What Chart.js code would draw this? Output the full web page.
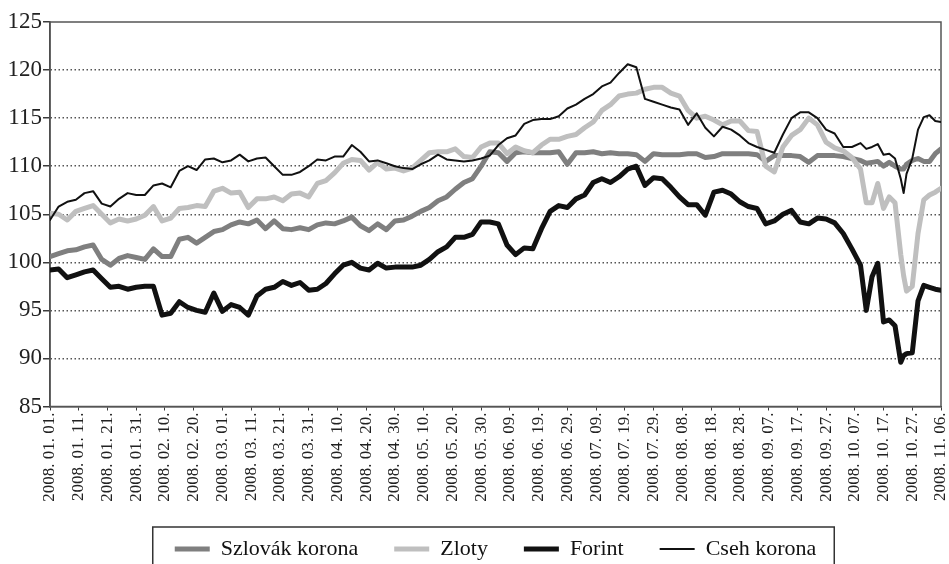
<!DOCTYPE html>
<html lang="hu">
<head>
<meta charset="UTF-8">
<title>Árfolyamindexek 2008</title>
<script src="https://cdn.jsdelivr.net/npm/chart.js"></script>
<style>
  html, body { margin: 0; padding: 0; background: #fff; }
  .wrap { width: 949px; height: 564px; position: relative; }
</style>
</head>
<body>
<div class="wrap"><canvas id="fxChart" width="949" height="564"></canvas></div>
<script>
// day index counted from 2008.01.01
const days = [0,3,6,9,12,15,18,21,24,27,30,33,36,39,42,45,48,51,54,57,60,63,66,69,72,75,78,81,84,87,
  90,93,96,99,102,105,108,111,114,117,120,123,126,129,132,135,138,141,144,147,150,153,156,159,162,165,168,171,174,177,
  180,183,186,189,192,195,198,201,204,207,210,213,216,219,222,225,228,231,234,237,240,243,246,249,252,255,258,261,264,267,
  270,273,276,279,282,284,286,288,290,292,294,296,297,298,300,302,304,306,308,310];

const szlovak = [100.6,100.9,101.2,101.3,101.6,101.8,100.3,99.7,100.4,100.7,
  100.5,100.3,101.4,100.6,100.6,102.4,102.6,102.0,102.6,103.2,
  103.4,103.9,104.2,104.0,104.4,103.5,104.3,103.5,103.4,103.6,
  103.4,103.9,104.1,104.0,104.3,104.7,103.8,103.3,104.0,103.4,
  104.3,104.4,104.8,105.3,105.7,106.4,106.8,107.6,108.3,108.7,
  110.0,111.5,111.4,110.5,111.4,111.5,111.4,111.4,111.4,111.5,
  110.2,111.4,111.4,111.5,111.3,111.4,111.3,111.3,111.2,110.5,
  111.3,111.2,111.2,111.2,111.3,111.3,110.9,111.0,111.3,111.3,
  111.3,111.3,111.2,110.5,111.1,111.1,111.1,111.0,110.4,111.1,
  111.1,111.1,111.0,110.8,
  110.6,110.3,110.4,110.5,110.0,110.4,110.0,109.7,109.7,110.2,110.6,110.8,110.5,110.5,111.3,111.8];

const zloty = [105.1,105.0,104.4,105.3,105.6,105.9,105.0,104.1,104.5,104.3,
  104.5,104.9,105.8,104.3,104.6,105.6,105.7,105.9,105.8,107.4,
  107.7,107.2,107.3,105.7,106.6,106.6,106.8,106.4,107.1,107.2,
  106.8,108.2,108.5,109.3,110.3,110.7,110.6,109.6,110.4,109.7,
  109.8,109.5,109.8,110.6,111.4,111.5,111.5,111.8,111.0,110.9,
  112.0,112.4,112.4,111.3,112.0,111.6,111.4,112.2,112.8,112.8,
  113.1,113.3,114.0,114.6,115.8,116.4,117.3,117.5,117.6,118.0,
  118.2,118.2,117.6,117.3,115.8,115.0,115.2,114.8,114.3,114.7,
  114.7,113.7,113.6,110.0,109.4,112.0,113.2,113.8,115.0,114.3,
  112.5,111.9,111.6,110.9,
  109.7,106.2,106.2,108.2,105.6,106.8,106.2,100.8,98.6,97.0,97.5,103.0,106.5,107.0,107.3,107.7];

const forint = [99.2,99.3,98.4,98.7,99.0,99.2,98.3,97.4,97.5,97.2,
  97.4,97.5,97.5,94.5,94.7,95.9,95.3,95.0,94.8,96.8,
  94.9,95.6,95.3,94.5,96.5,97.2,97.4,98.0,97.6,97.9,
  97.1,97.2,97.8,98.8,99.7,100.0,99.4,99.2,99.9,99.4,
  99.5,99.5,99.5,99.7,100.3,101.1,101.6,102.6,102.6,102.9,
  104.2,104.2,104.0,101.8,100.8,101.5,101.4,103.5,105.3,105.9,
  105.7,106.6,107.0,108.3,108.7,108.3,108.9,109.7,110.0,108.0,
  108.8,108.7,107.8,106.8,106.0,106.0,104.9,107.3,107.5,107.1,
  106.3,105.8,105.6,104.0,104.3,105.0,105.4,104.2,104.0,104.6,
  104.5,104.1,103.0,101.4,
  99.7,95.0,98.5,99.9,93.8,94.0,93.4,89.6,90.3,90.5,90.6,96.0,97.6,97.4,97.2,97.1];

const cseh = [104.4,105.8,106.3,106.5,107.2,107.4,106.1,105.8,106.6,107.2,
  107.0,107.0,108.0,108.2,107.8,109.5,110.0,109.6,110.7,110.8,
  110.4,110.6,111.2,110.5,110.8,110.9,110.0,109.1,109.1,109.4,
  110.0,110.7,110.6,111.0,111.0,112.2,111.5,110.5,110.6,110.3,
  110.0,109.8,109.7,110.2,110.6,111.2,110.7,110.6,110.5,110.6,
  110.8,111.1,112.2,112.9,113.2,114.4,114.8,114.9,114.9,115.2,
  116.0,116.4,117.0,117.5,118.3,118.7,119.7,120.6,120.3,117.0,
  116.7,116.4,116.1,115.9,114.3,115.5,114.0,113.1,114.1,113.8,
  113.2,112.4,112.0,111.7,111.4,113.3,115.0,115.6,115.6,115.0,
  113.8,113.4,112.0,112.0,
  112.4,111.8,112.0,112.3,111.2,111.3,110.8,108.7,107.2,109.2,110.8,113.8,115.1,115.3,114.7,114.6];

const tickLabels = ['2008. 01. 01.','2008. 01. 11.','2008. 01. 21.','2008. 01. 31.','2008. 02. 10.','2008. 02. 20.',
  '2008. 03. 01.','2008. 03. 11.','2008. 03. 21.','2008. 03. 31.','2008. 04. 10.','2008. 04. 20.','2008. 04. 30.',
  '2008. 05. 10.','2008. 05. 20.','2008. 05. 30.','2008. 06. 09.','2008. 06. 19.','2008. 06. 29.','2008. 07. 09.',
  '2008. 07. 19.','2008. 07. 29.','2008. 08. 08.','2008. 08. 18.','2008. 08. 28.','2008. 09. 07.','2008. 09. 17.',
  '2008. 09. 27.','2008. 10. 07.','2008. 10. 17.','2008. 10. 27.','2008. 11. 06.'];

const seriesNames = ['Szlovák korona', 'Zloty', 'Forint', 'Cseh korona'];

const FONT = '"Liberation Serif", "Times New Roman", Times, "DejaVu Serif", serif';
const AXIS = '#3a3a3a';

function pts(vals) {
  return days.map((d, i) => ({ x: d, y: vals[i] }));
}

// frame around plot area and legend
const frames = {
  id: 'frames',
  beforeDatasetsDraw(chart) {
    const a = chart.chartArea, ctx = chart.ctx;
    ctx.save();
    ctx.strokeStyle = '#555';
    ctx.lineWidth = 1.5;
    ctx.strokeRect(a.left, a.top, a.right - a.left, a.bottom - a.top);
    ctx.restore();
  },
  afterDraw(chart) {
    const boxes = chart.legend.legendHitBoxes;
    if (!boxes || !boxes.length) return;
    const l = Math.min(...boxes.map(b => b.left)) - 22;
    const r = Math.max(...boxes.map(b => b.left + b.width)) + 18;
    const cy = boxes[0].top + boxes[0].height / 2;
    const ctx = chart.ctx;
    ctx.save();
    ctx.strokeStyle = '#333';
    ctx.lineWidth = 1.5;
    ctx.strokeRect(l, cy - 22, r - l, 60);
    ctx.restore();
  }
};

new Chart(document.getElementById('fxChart'), {
  type: 'line',
  data: {
    datasets: [
      { label: seriesNames[0], data: pts(szlovak), borderColor: '#7f7f7f', borderWidth: 5, order: 4 },
      { label: seriesNames[1], data: pts(zloty), borderColor: '#bfbfbf', borderWidth: 5, order: 3 },
      { label: seriesNames[2], data: pts(forint), borderColor: '#111111', borderWidth: 5, order: 2 },
      { label: seriesNames[3], data: pts(cseh), borderColor: '#111111', borderWidth: 2, order: 1 }
    ]
  },
  options: {
    responsive: false,
    animation: false,
    parsing: false,
    elements: {
      point: { radius: 0 },
      line: { tension: 0, borderJoinStyle: 'round', borderCapStyle: 'round' }
    },
    layout: { padding: { top: 22, right: 8, left: 0, bottom: -6 } },
    scales: {
      x: {
        type: 'linear',
        min: 0,
        max: 310,
        afterFit(scale) {
          scale.height = 95.5;
          scale.paddingLeft = 0;
          scale.paddingRight = 0;
        },
        afterBuildTicks(scale) {
          scale.ticks = tickLabels.map((t, i) => ({ value: i * 10 }));
        },
        ticks: {
          autoSkip: false,
          minRotation: 90,
          maxRotation: 90,
          padding: 2,
          color: '#222',
          font: { family: FONT, size: 17 },
          callback: v => tickLabels[Math.round(v / 10)]
        },
        grid: {
          drawOnChartArea: false,
          drawTicks: true,
          tickLength: 4,
          tickColor: AXIS
        },
        border: { display: true, color: AXIS, width: 1.5 }
      },
      y: {
        min: 85,
        max: 125,
        afterFit(scale) { scale.width = 50; },
        ticks: {
          stepSize: 5,
          padding: 1,
          color: '#222',
          font: { family: FONT, size: 23 }
        },
        grid: {
          color: ctx => (ctx.tick && (ctx.tick.value === 85 || ctx.tick.value === 125)) ? 'rgba(0,0,0,0)' : '#555',
          lineWidth: 1.5,
          tickColor: AXIS,
          tickBorderDash: [],
          tickLength: 7,
          tickWidth: 1.5
        },
        border: { display: true, color: AXIS, width: 1.5, dash: [1.5, 2.5] }
      }
    },
    plugins: {
      legend: {
        position: 'bottom',
        fullSize: false,
        labels: {
          usePointStyle: true,
          pointStyle: 'line',
          pointStyleWidth: 35,
          padding: 36,
          color: '#111',
          font: { family: FONT, size: 22 },
          sort: (a, b) => a.datasetIndex - b.datasetIndex
        }
      },
      tooltip: { enabled: false }
    }
  },
  plugins: [frames]
});
</script>
</body>
</html>
